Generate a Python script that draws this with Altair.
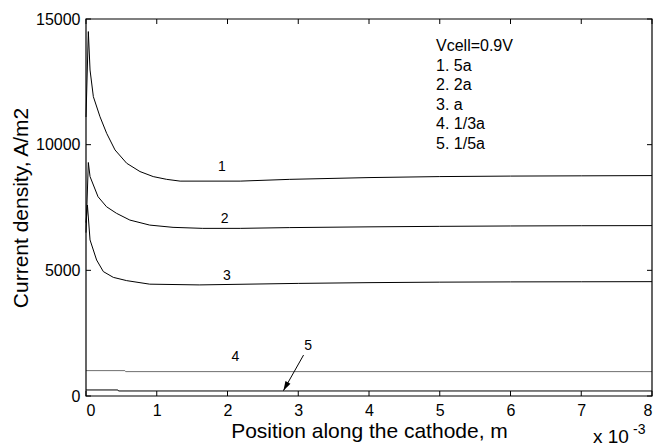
import altair as alt
import pandas as pd

# ---- data (x in units of 1e-3 m) ----
x1 = [0.0, 0.033, 0.057, 0.104, 0.198, 0.292, 0.41, 0.575, 0.763, 0.95, 1.14, 1.33, 2.18, 2.88, 4.0, 5.0, 6.0, 7.0, 8.0]
y1 = [11100, 14500, 12970, 11910, 11110, 10450, 9790, 9260, 8930, 8730, 8620, 8550, 8550, 8620, 8690, 8730, 8750, 8760, 8770]

x2 = [0.0, 0.033, 0.057, 0.17, 0.29, 0.43, 0.62, 0.9, 1.23, 1.65, 2.18, 2.88, 4.0, 5.0, 6.0, 7.0, 8.0]
y2 = [6500, 9290, 8730, 7930, 7530, 7270, 7000, 6800, 6710, 6670, 6670, 6700, 6730, 6750, 6765, 6775, 6780]

x3 = [0.0, 0.02, 0.057, 0.15, 0.245, 0.386, 0.575, 0.9, 1.6, 3.0, 4.0, 5.0, 6.0, 7.0, 8.0]
y3 = [6900, 7600, 6210, 5410, 4950, 4720, 4590, 4450, 4420, 4480, 4510, 4530, 4540, 4545, 4550]

x4 = [0.0, 0.55, 0.56, 8.0]
y4 = [1010, 1010, 970, 970]

x5 = [0.0, 0.45, 0.46, 8.0]
y5 = [240, 240, 200, 200]

curve_names = ["1", "2", "3", "4", "5"]
curve_colors = ["#000000", "#000000", "#000000", "#707070", "#000000"]

label_x = [1.92, 1.96, 1.99, 2.11, 3.14]
label_y = [9110, 7040, 4770, 1550, 1990]

arrow_x = [3.075, 2.79]
arrow_y = [1630, 210]

x_ticks = [0, 1, 2, 3, 4, 5, 6, 7, 8]
y_ticks = [0, 5000, 10000, 15000]

legend_lines = ["Vcell=0.9V", "1. 5a", "2. 2a", "3. a", "4. 1/3a", "5. 1/5a"]

x_title = "Position along the cathode, m"
y_title = "Current density, A/m2"

W, H = 566, 377
FONT = "Liberation Sans"

rows = []
for name, xs, ys in zip(curve_names, [x1, x2, x3, x4, x5], [y1, y2, y3, y4, y5]):
    for i, (a, b) in enumerate(zip(xs, ys)):
        rows.append({"curve": name, "x": a, "y": b, "i": i})
curves = pd.DataFrame(rows)

xscale = alt.Scale(domain=[0, 8], nice=False, zero=False)
yscale = alt.Scale(domain=[0, 15000], nice=False, zero=False)

x_axis = alt.Axis(values=x_ticks, ticks=False, domain=False, grid=False,
                  labelFont=FONT, labelFontSize=16, labelColor="#000", labelPadding=6,
                  title=x_title, titleFont=FONT, titleFontSize=21, titleFontWeight="normal",
                  titleColor="#000", titlePadding=2)
y_axis = alt.Axis(values=y_ticks, ticks=False, domain=False, grid=False, format="d",
                  labelFont=FONT, labelFontSize=16, labelColor="#000", labelPadding=6,
                  title=y_title, titleFont=FONT, titleFontSize=21, titleFontWeight="normal",
                  titleColor="#000", titlePadding=4)

X = alt.X("x:Q", scale=xscale, axis=x_axis)
Y = alt.Y("y:Q", scale=yscale, axis=y_axis)

lines = alt.Chart(curves).mark_line(strokeWidth=1).encode(
    x=X, y=Y,
    color=alt.Color("curve:N", scale=alt.Scale(domain=curve_names, range=curve_colors), legend=None),
    order="i:Q",
)

xt = pd.DataFrame({"x": x_ticks})
yt = pd.DataFrame({"y": y_ticks})
tick_len = 5
tick_bottom = alt.Chart(xt).mark_rule(color="#000", strokeWidth=1).encode(
    x=X, y=alt.value(H), y2=alt.value(H - tick_len))
tick_top = alt.Chart(xt).mark_rule(color="#000", strokeWidth=1).encode(
    x=X, y=alt.value(0), y2=alt.value(tick_len))
tick_left = alt.Chart(yt).mark_rule(color="#000", strokeWidth=1).encode(
    y=Y, x=alt.value(0), x2=alt.value(tick_len))
tick_right = alt.Chart(yt).mark_rule(color="#000", strokeWidth=1).encode(
    y=Y, x=alt.value(W), x2=alt.value(W - tick_len))

one = pd.DataFrame({"k": [0]})
frame = alt.Chart(one).mark_rect(fill=None, fillOpacity=0, stroke="#000", strokeWidth=1.2).encode(
    x=alt.value(0), x2=alt.value(W), y=alt.value(0), y2=alt.value(H))

labels = alt.Chart(pd.DataFrame({"x": label_x, "y": label_y, "t": curve_names})).mark_text(
    font=FONT, fontSize=14, color="#000", align="center", baseline="middle").encode(
    x=X, y=Y, text="t:N")

arrow_line = alt.Chart(pd.DataFrame({"x": arrow_x, "y": arrow_y})).mark_line(
    color="#000", strokeWidth=1).encode(x=X, y=Y)
arrow_head = alt.Chart(pd.DataFrame({"x": [arrow_x[1]], "y": [arrow_y[1]]})).mark_point(
    shape="M0,0L0.6,2L-0.6,2Z", size=90, filled=True, color="#000", opacity=1,
    angle=208.6, strokeWidth=0).encode(x=X, y=Y)

legend_text = alt.Chart(pd.DataFrame({"t": ["\n".join(legend_lines)]})).mark_text(
    font=FONT, fontSize=16, color="#000", align="left", baseline="top",
    lineBreak="\n", lineHeight=19.6).encode(
    x=alt.value(350), y=alt.value(19), text="t:N")

exp_base = alt.Chart(pd.DataFrame({"t": ["x 10"]})).mark_text(
    font=FONT, fontSize=19, color="#000", align="left", baseline="alphabetic").encode(
    x=alt.value(507), y=alt.value(424), text="t:N")
exp_sup = alt.Chart(pd.DataFrame({"t": ["-3"]})).mark_text(
    font=FONT, fontSize=14, color="#000", align="left", baseline="alphabetic").encode(
    x=alt.value(547), y=alt.value(415), text="t:N")

chart = alt.layer(
    lines, tick_bottom, tick_top, tick_left, tick_right, frame, labels,
    arrow_line, arrow_head, legend_text, exp_base, exp_sup
).properties(
    width=W, height=H,
    autosize=alt.AutoSizeParams(type="none"),
    padding={"left": 86, "top": 19, "right": 16, "bottom": 52},
    background="white",
).configure_view(stroke=None)

chart.save("out.html", embed_options={"renderer": "svg", "actions": False})
